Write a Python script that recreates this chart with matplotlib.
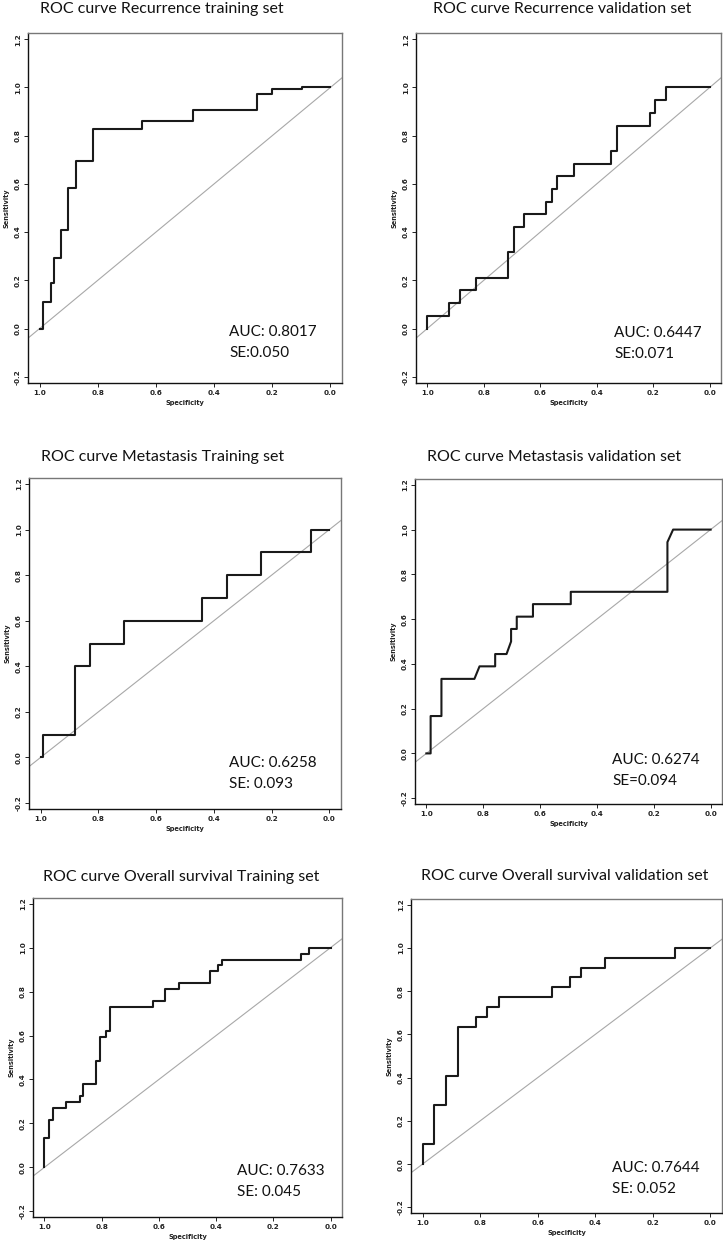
import matplotlib
matplotlib.use("Agg")
import matplotlib.pyplot as plt

W, H = 723, 1241

# ROC points (specificity, sensitivity)
rec_train_spec = [1.0, 0.988, 0.988, 0.962, 0.962, 0.950, 0.950, 0.925, 0.925, 0.901, 0.901, 0.876, 0.876,
                  0.815, 0.815, 0.649, 0.649, 0.471, 0.471, 0.251, 0.251, 0.202, 0.202, 0.096, 0.096, 0.0]
rec_train_sens = [0.0, 0.0, 0.111, 0.111, 0.188, 0.188, 0.292, 0.292, 0.407, 0.407, 0.582, 0.582, 0.697,
                  0.697, 0.826, 0.826, 0.860, 0.860, 0.907, 0.907, 0.972, 0.972, 0.993, 0.993, 1.0, 1.0]

rec_valid_spec = [1.0, 1.0, 0.924, 0.924, 0.884, 0.884, 0.827, 0.827, 0.713, 0.713, 0.693, 0.693, 0.657,
                  0.657, 0.579, 0.579, 0.559, 0.559, 0.541, 0.541, 0.482, 0.482, 0.349, 0.349, 0.327,
                  0.327, 0.213, 0.213, 0.195, 0.195, 0.155, 0.155, 0.0]
rec_valid_sens = [0.0, 0.053, 0.053, 0.105, 0.105, 0.158, 0.158, 0.211, 0.211, 0.316, 0.316, 0.421, 0.421,
                  0.474, 0.474, 0.526, 0.526, 0.579, 0.579, 0.632, 0.632, 0.684, 0.684, 0.737, 0.737,
                  0.842, 0.842, 0.895, 0.895, 0.947, 0.947, 1.0, 1.0]

met_train_spec = [1.0, 0.991, 0.991, 0.881, 0.881, 0.828, 0.828, 0.710, 0.710, 0.441, 0.441, 0.356, 0.356,
                  0.238, 0.238, 0.065, 0.065, 0.0]
met_train_sens = [0.0, 0.0, 0.1, 0.1, 0.4, 0.4, 0.5, 0.5, 0.6, 0.6, 0.7, 0.7, 0.8, 0.8, 0.9, 0.9, 1.0, 1.0]

met_valid_spec = [1.0, 0.985, 0.985, 0.947, 0.947, 0.831, 0.813, 0.758, 0.758, 0.718, 0.702, 0.702, 0.682,
                  0.682, 0.625, 0.625, 0.492, 0.492, 0.152, 0.152, 0.132, 0.0]
met_valid_sens = [0.0, 0.0, 0.167, 0.167, 0.333, 0.333, 0.389, 0.389, 0.444, 0.444, 0.5, 0.556, 0.556,
                  0.611, 0.611, 0.667, 0.667, 0.722, 0.722, 0.944, 1.0, 1.0]

os_train_spec = [1.0, 1.0, 0.985, 0.985, 0.971, 0.971, 0.924, 0.924, 0.877, 0.877, 0.865, 0.865, 0.819,
                 0.819, 0.805, 0.805, 0.786, 0.786, 0.772, 0.772, 0.620, 0.620, 0.577, 0.577, 0.529,
                 0.529, 0.423, 0.423, 0.392, 0.392, 0.380, 0.380, 0.105, 0.105, 0.074, 0.074, 0.0]
os_train_sens = [0.0, 0.135, 0.135, 0.216, 0.216, 0.270, 0.270, 0.297, 0.297, 0.324, 0.324, 0.378, 0.378,
                 0.486, 0.486, 0.595, 0.595, 0.622, 0.622, 0.730, 0.730, 0.757, 0.757, 0.811, 0.811,
                 0.838, 0.838, 0.892, 0.892, 0.919, 0.919, 0.946, 0.946, 0.973, 0.973, 1.0, 1.0]

os_valid_spec = [1.0, 1.0, 0.959, 0.959, 0.919, 0.919, 0.878, 0.878, 0.816, 0.816, 0.775, 0.775, 0.734,
                 0.734, 0.551, 0.551, 0.488, 0.488, 0.449, 0.449, 0.365, 0.365, 0.122, 0.122, 0.0]
os_valid_sens = [0.0, 0.091, 0.091, 0.273, 0.273, 0.409, 0.409, 0.636, 0.636, 0.682, 0.682, 0.727, 0.727,
                 0.773, 0.773, 0.818, 0.818, 0.864, 0.864, 0.909, 0.909, 0.955, 0.955, 1.0, 1.0]

titles = ["ROC curve Recurrence training set", "ROC curve Recurrence validation set",
          "ROC curve Metastasis Training set", "ROC curve Metastasis validation set",
          "ROC curve Overall survival Training set", "ROC curve Overall survival validation set"]
auc_labels = ["AUC: 0.8017", "AUC: 0.6447", "AUC: 0.6258", "AUC: 0.6274", "AUC: 0.7633", "AUC: 0.7644"]
se_labels = ["SE:0.050", "SE:0.071", "SE: 0.093", "SE=0.094", "SE: 0.045", "SE: 0.052"]

curves = [(rec_train_spec, rec_train_sens), (rec_valid_spec, rec_valid_sens),
          (met_train_spec, met_train_sens), (met_valid_spec, met_valid_sens),
          (os_train_spec, os_train_sens), (os_valid_spec, os_valid_sens)]
ticks = [1.0, 0.8, 0.6, 0.4, 0.2, 0.0]
yticks = [-0.2, 0.0, 0.2, 0.4, 0.6, 0.8, 1.0, 1.2]

# pixel layout: axes box (left, top, right, bottom), title centre, text anchor
boxes = [(28, 33, 342, 383), (416, 33, 721, 383),
         (29, 478, 341, 809), (415, 479, 722, 804),
         (33, 898, 342, 1217), (411, 899, 722, 1213)]
title_pos = [(162, 9), (562, 9), (163, 457), (554, 457), (181, 877), (565, 876)]
text_pos = [(229, 332), (614, 333), (229, 763), (612, 760), (237, 1171), (612, 1168)]

fig = plt.figure(figsize=(W / 100, H / 100), dpi=100)

for i in range(6):
    l, t, r, b = boxes[i]
    ax = fig.add_axes([l / W, 1 - b / H, (r - l) / W, (b - t) / H])
    spec, sens = curves[i]
    ax.axline((1.0, 0.0), (0.0, 1.0), color="#a8a8a8", lw=0.8, zorder=1)
    ax.plot(spec, sens, color="#1a1a1a", lw=1.5, zorder=2)
    ax.set_xlim(1.04, -0.04)
    ax.set_ylim(-0.226, 1.226)
    ax.set_xticks(ticks)
    ax.set_xticklabels([f"{v:.1f}" for v in ticks])
    ax.set_yticks(yticks)
    ax.set_yticklabels([f"{v:.1f}" for v in yticks], rotation=90, va="center")
    ax.tick_params(direction="out", length=3, width=0.7, pad=2, labelsize=5.2,
                   colors="#222222")
    for lab in ax.get_xticklabels() + ax.get_yticklabels():
        lab.set_fontweight("bold")
    for side in ["left", "bottom"]:
        ax.spines[side].set_color("#111111")
        ax.spines[side].set_linewidth(1.0)
    for side in ["top", "right"]:
        ax.spines[side].set_color("#777777")
        ax.spines[side].set_linewidth(1.0)
    ax.set_xlabel("Specificity", fontsize=4.8, fontweight="bold", labelpad=3, color="#222222")
    ax.set_ylabel("Sensitivity", fontsize=4.8, fontweight="bold", labelpad=4, color="#222222")

    tx, ty = title_pos[i]
    fig.text(tx / W, 1 - ty / H, titles[i], ha="center", va="center",
             fontsize=11.5, family="Lato", color="#111111")
    ax_x, ax_y = text_pos[i]
    fig.text(ax_x / W, 1 - ax_y / H, auc_labels[i], ha="left", va="center",
             fontsize=11, family="Lato", color="#111111")
    fig.text(ax_x / W, 1 - (ax_y + 21) / H, se_labels[i], ha="left", va="center",
             fontsize=11, family="Lato", color="#111111")

fig.savefig("out.png", dpi=100)
